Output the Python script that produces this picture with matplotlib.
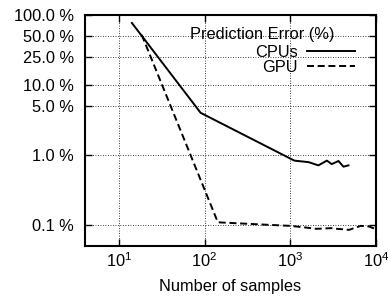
import matplotlib
matplotlib.use('Agg')
from matplotlib import pyplot as plt
from matplotlib.ticker import FixedLocator, NullLocator

plt.rcParams['font.family'] = ['Liberation Sans', 'DejaVu Sans']
plt.rcParams['mathtext.fontset'] = 'custom'
plt.rcParams['mathtext.rm'] = 'Liberation Sans'

cpu_samples = [14.2, 90, 1115, 1630, 2130, 2670, 3050, 3650, 4170, 4770]
cpu_error = [77, 4.0, 0.83, 0.79, 0.71, 0.83, 0.74, 0.82, 0.68, 0.71]

gpu_samples = [18.5, 143, 500, 1000, 1500, 2000, 2500, 3000, 3500, 4000, 4850, 6640, 8300, 9480]
gpu_error = [52, 0.109, 0.101, 0.097, 0.092, 0.088, 0.089, 0.090, 0.088, 0.087, 0.085, 0.097, 0.095, 0.089]

y_ticks = [0.1, 1.0, 5.0, 10.0, 25.0, 50.0, 100.0]
y_labels = ['0.1 %', '1.0 %', '5.0 %', '10.0 %', '25.0 %', '50.0 %', '100.0 %']
x_ticks = [10, 100, 1000, 10000]

fs = 11.8

fig = plt.figure(figsize=(3.88, 2.96), dpi=100)
ax = fig.add_axes([85 / 388, 50 / 296, 291 / 388, 231 / 296])

ax.plot(cpu_samples, cpu_error, color='black', lw=1.4, label='CPUs')
ax.plot(gpu_samples, gpu_error, color='black', lw=1.4, ls=(0, (3.6, 1.9)), label='GPU')

ax.set_xscale('log')
ax.set_yscale('log')
ax.set_xlim(4.03, 10000)
ax.set_ylim(0.05, 100)

ax.yaxis.set_major_locator(FixedLocator(y_ticks))
ax.set_yticklabels(y_labels)
ax.yaxis.set_minor_locator(NullLocator())
ax.xaxis.set_major_locator(FixedLocator(x_ticks))
ax.xaxis.set_minor_locator(NullLocator())

ax.grid(True, ls=(0, (1, 2)), color='black', lw=0.6)
ax.tick_params(direction='in', top=True, right=True, length=5, width=1, labelsize=fs)
ax.tick_params(axis='y', pad=8)
ax.tick_params(axis='x', pad=4)
for s in ax.spines.values():
    s.set_linewidth(1.5)

ax.set_xlabel('Number of samples', fontsize=fs, labelpad=6)

fig.text(190 / 388, 1 - 39 / 296, 'Prediction Error (%)', fontsize=fs, va='baseline', ha='left')
ax.legend(loc='upper right', frameon=False, markerfirst=False, fontsize=fs,
          handlelength=2.9, handletextpad=0.6, borderpad=0, borderaxespad=0,
          labelspacing=0.0, bbox_to_anchor=(355 / 388, 1 - 45 / 296),
          bbox_transform=fig.transFigure)

fig.savefig('out.png', dpi=100)
